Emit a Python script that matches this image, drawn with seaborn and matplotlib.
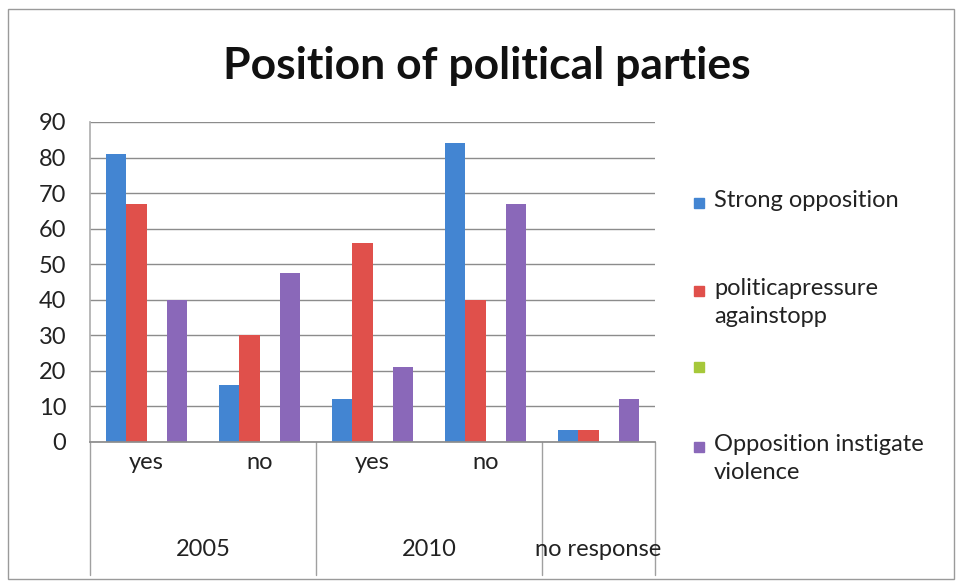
import seaborn as sns
import matplotlib.pyplot as plt
import matplotlib.transforms as mtransforms
from matplotlib.patches import Rectangle
import pandas as pd

# ── data ───────────────────────────────────────────────────────
categories = ["2005 yes", "2005 no", "2010 yes", "2010 no", "no response"]
sub_labels = ["yes", "no", "yes", "no", ""]
group_labels = ["2005", "2010", "no response"]
group_spans = [(0, 1), (2, 3), (4, 4)]

series_names = ["Strong opposition", "politicapressure\nagainstopp", " ",
                "Opposition instigate\nviolence"]
strong_opposition = [81, 16, 12, 84, 3.5]
political_pressure = [67, 30, 56, 40, 3.5]
blank_series = [0, 0, 0, 0, 0]
instigate_violence = [40, 47.5, 21, 67, 12]

colors = ["#4385D2", "#E0504B", "#A6C83A", "#8A68B9"]

rows = []
for name, vals in zip(series_names,
                      [strong_opposition, political_pressure, blank_series, instigate_violence]):
    for cat, v in zip(categories, vals):
        rows.append({"category": cat, "series": name, "value": v})
df = pd.DataFrame(rows)

sns.set_theme(style="white")
plt.rcParams["font.family"] = ["Lato", "DejaVu Sans"]

fig = plt.figure(figsize=(9.56, 5.82), dpi=100)
W, H = 956, 582
ax = fig.add_axes([90 / W, (H - 442) / H, (655 - 90) / W, 320 / H])

sns.barplot(data=df, x="category", y="value", hue="series", order=categories,
            hue_order=series_names, palette=colors, saturation=1, width=0.71,
            linewidth=0, legend=False, ax=ax)

ax.set_ylim(0, 90)
ax.set_xlim(-0.5, len(categories) - 0.5)
ax.set_yticks(range(0, 91, 10))
ax.yaxis.grid(True, color="#8c8c8c", linewidth=1)
ax.set_axisbelow(True)
ax.set_xlabel("")
ax.set_ylabel("")
ax.set_xticks(range(len(categories)))
ax.set_xticklabels(sub_labels)
ax.tick_params(axis="y", length=0, pad=17, labelsize=17, labelcolor="#222222")
ax.tick_params(axis="x", length=0, pad=7, labelsize=17, labelcolor="#222222")
for side in ["top", "right"]:
    ax.spines[side].set_visible(False)
ax.spines["left"].set_color("#b0b0b0")
ax.spines["bottom"].set_color("#8c8c8c")

# multi-level category axis: separators and group labels
trans = mtransforms.blended_transform_factory(ax.transData, ax.transAxes)
bottom = -(575 - 442) / 320
for b in [-0.5, 1.5, 3.5, 4.5]:
    ax.plot([b, b], [0, bottom], transform=trans, color="#a0a0a0",
            linewidth=1, clip_on=False)
for lab, (a, b) in zip(group_labels, group_spans):
    ax.text((a + b) / 2, -(550 - 442) / 320, lab, transform=trans,
            ha="center", va="center", fontsize=17, color="#222222")

# title
fig.text(487 / W, 1 - 66 / H, "Position of political parties", ha="center",
         va="center", fontsize=32, fontweight="bold", color="#111111")

# legend on the right, markers lined up with the first line of each label
leg_y = [203, 291, 367, 447]
for name, col, y in zip(series_names, colors, leg_y):
    fig.patches.append(Rectangle((694 / W, 1 - (y + 5) / H), 10 / W, 10 / H,
                                 transform=fig.transFigure, color=col))
    fig.text(714 / W, 1 - (y - 13) / H, name, ha="left", va="top",
             fontsize=17, color="#222222", linespacing=1.4)

# chart border
fig.patches.append(Rectangle((8 / W, 3 / H), (W - 10) / W, (H - 12) / H,
                             transform=fig.transFigure, fill=False,
                             edgecolor="#9a9a9a", linewidth=1))

fig.savefig("out.png", dpi=100)
